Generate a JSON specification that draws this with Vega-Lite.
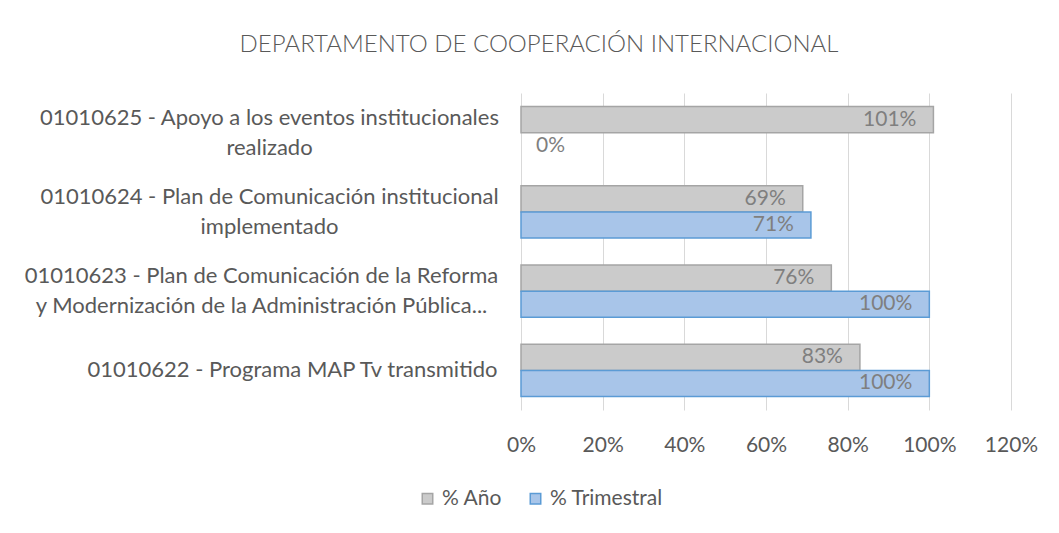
{
  "$schema": "https://vega.github.io/schema/vega-lite/v6.json",
  "width": 490,
  "height": 317,
  "autosize": {"type": "none"},
  "padding": {"left": 521, "top": 93, "right": 48, "bottom": 123},
  "background": "white",
  "title": {
    "text": "DEPARTAMENTO DE COOPERACIÓN INTERNACIONAL",
    "font": "Lato",
    "fontSize": 24,
    "fontWeight": 300,
    "color": "#595959",
    "anchor": "middle",
    "dx": -227,
    "offset": 36
  },
  "data": {
    "values": [
      {"cat": "01010625 - Apoyo a los eventos institucionales\nrealizado", "serie": "% Año", "v": 1.01},
      {"cat": "01010625 - Apoyo a los eventos institucionales\nrealizado", "serie": "% Trimestral", "v": 0},
      {"cat": "01010624 - Plan de Comunicación institucional\nimplementado", "serie": "% Año", "v": 0.69},
      {"cat": "01010624 - Plan de Comunicación institucional\nimplementado", "serie": "% Trimestral", "v": 0.71},
      {"cat": "01010623 - Plan de Comunicación de la Reforma\ny Modernización de la Administración Pública...", "serie": "% Año", "v": 0.76},
      {"cat": "01010623 - Plan de Comunicación de la Reforma\ny Modernización de la Administración Pública...", "serie": "% Trimestral", "v": 1.0},
      {"cat": "01010622 - Programa MAP Tv transmitido", "serie": "% Año", "v": 0.83},
      {"cat": "01010622 - Programa MAP Tv transmitido", "serie": "% Trimestral", "v": 1.0}
    ]
  },
  "encoding": {
    "y": {
      "field": "cat",
      "type": "nominal",
      "sort": null,
      "scale": {"paddingInner": 0.34, "paddingOuter": 0.17},
      "axis": {
        "title": null,
        "domain": false,
        "ticks": false,
        "labelFont": "Lato",
        "labelFontSize": 22,
        "labelColor": "#595959",
        "labelLimit": 600,
        "labelLineHeight": 30,
        "labelExpr": "split(datum.label, '\\n')",
        "labelAlign": {"condition": {"test": "indexof(datum.value, '01010622') >= 0", "value": "right"}, "value": "center"},
        "labelOffset": {"condition": {"test": "indexof(datum.value, '01010622') >= 0", "value": 0}, "value": -15},
        "labelPadding": {
          "condition": [
            {"test": "indexof(datum.value, '01010622') >= 0", "value": 24},
            {"test": "indexof(datum.value, '01010623') >= 0", "value": 260}
          ],
          "value": 252
        }
      }
    },
    "yOffset": {"field": "serie", "type": "nominal", "sort": ["% Año", "% Trimestral"]},
    "x": {
      "field": "v",
      "type": "quantitative",
      "scale": {"domain": [0, 1.2]},
      "axis": {
        "title": null,
        "format": ".0%",
        "values": [0, 0.2, 0.4, 0.6, 0.8, 1.0, 1.2],
        "grid": true,
        "gridColor": "#d9d9d9",
        "domain": false,
        "ticks": false,
        "labelFlush": false,
        "labelFont": "Lato",
        "labelFontSize": 21,
        "labelColor": "#595959",
        "labelPadding": 24
      }
    }
  },
  "layer": [
    {
      "transform": [{"filter": "datum.v > 0"}],
      "mark": {"type": "bar", "strokeWidth": 1.5},
      "encoding": {
        "color": {
          "field": "serie",
          "type": "nominal",
          "scale": {"domain": ["% Año", "% Trimestral"], "range": ["#cbcbcb", "#a8c5e9"]},
          "legend": {
            "title": null,
            "orient": "none",
            "legendX": -104,
            "legendY": 395,
            "direction": "horizontal",
            "symbolType": "square",
            "symbolSize": 110,
            "symbolStrokeWidth": 1.5,
            "labelFont": "Lato",
            "labelFontSize": 21,
            "labelColor": "#595959",
            "labelOffset": 4,
            "columnPadding": 22
          }
        },
        "stroke": {
          "field": "serie",
          "type": "nominal",
          "scale": {"domain": ["% Año", "% Trimestral"], "range": ["#a5a5a5", "#5b9bd5"]},
          "legend": {
            "title": null,
            "orient": "none",
            "legendX": -104,
            "legendY": 395,
            "direction": "horizontal",
            "symbolType": "square",
            "symbolSize": 110,
            "symbolStrokeWidth": 1.5,
            "labelFont": "Lato",
            "labelFontSize": 21,
            "labelColor": "#595959",
            "labelOffset": 4,
            "columnPadding": 22
          }
        }
      }
    },
    {
      "transform": [{"filter": "datum.v > 0"}],
      "mark": {"type": "text", "align": "right", "dx": -17, "font": "Lato", "fontSize": 21, "color": "#7f7f7f", "baseline": "middle"},
      "encoding": {"text": {"field": "v", "type": "quantitative", "format": ".0%"}}
    },
    {
      "transform": [{"filter": "datum.v == 0"}],
      "mark": {"type": "text", "align": "left", "dx": 15, "font": "Lato", "fontSize": 21, "color": "#7f7f7f", "baseline": "middle"},
      "encoding": {"text": {"field": "v", "type": "quantitative", "format": ".0%"}}
    }
  ],
  "config": {"view": {"stroke": null}}
}
